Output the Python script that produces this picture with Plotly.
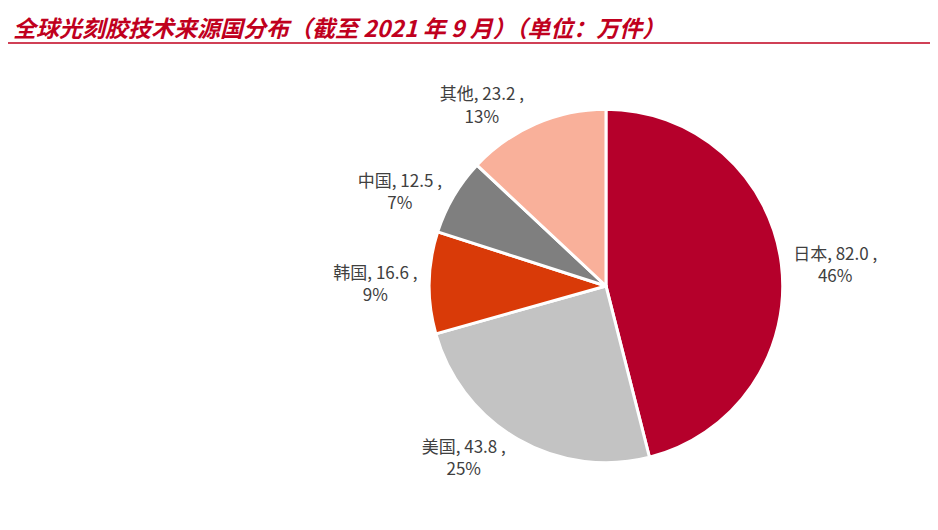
import plotly.graph_objects as go

labels = ["日本", "美国", "韩国", "中国", "其他"]
values = [82.0, 43.8, 16.6, 12.5, 23.2]
pcts = ["46%", "25%", "9%", "7%", "13%"]
colors = ["#B5002B", "#C3C3C3", "#D93A08", "#7F7F7F", "#F9B09A"]

texts = [f"{l}, {v:.1f} ,<br>{p}" for l, v, p in zip(labels, values, pcts)]

fig = go.Figure(go.Pie(
    labels=labels, values=values, text=texts, textinfo="text",
    textposition="outside", sort=False, direction="clockwise", rotation=0,
    marker=dict(colors=colors, line=dict(color="white", width=3)),
    textfont=dict(family="Noto Sans CJK SC", size=17, color="#404040"),
    domain=dict(x=[0.449, 0.826], y=[0.142, 0.809]),
    showlegend=False, hoverinfo="skip",
))
fig.update_layout(
    width=938, height=530, margin=dict(l=0, r=0, t=0, b=0),
    paper_bgcolor="white",
    annotations=[dict(text="<b><i>全球光刻胶技术来源国分布（截至 2021 年 9 月）（单位：万件）</i></b>",
                      x=0.003, y=1.0, xref="paper", yref="paper", xanchor="left", yanchor="top",
                      showarrow=False, font=dict(family="Noto Sans CJK SC", size=23, color="#C0001E"))],
    shapes=[dict(type="line", xref="paper", yref="paper", x0=0, x1=1, y0=0.934, y1=0.934,
                 line=dict(color="#C0001E", width=1.5))],
)
fig.write_html("out.html")
